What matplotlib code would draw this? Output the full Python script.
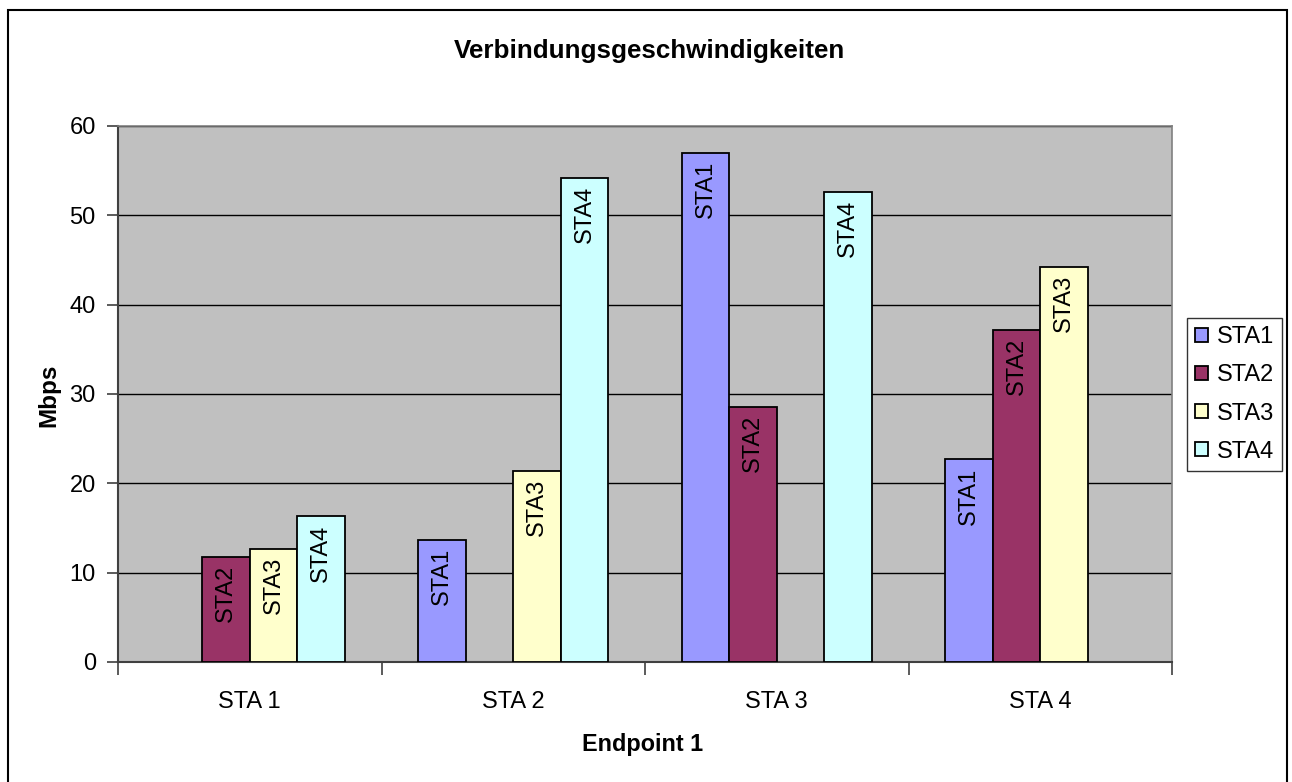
import matplotlib
matplotlib.use("Agg")
import matplotlib.pyplot as plt
from matplotlib.patches import Rectangle
import numpy as np

plt.rcParams['font.family'] = ['Liberation Sans', 'DejaVu Sans']

# data
endpoints = ["STA 1", "STA 2", "STA 3", "STA 4"]
series_names = ["STA1", "STA2", "STA3", "STA4"]
sta1 = [np.nan, 13.7, 57.0, 22.7]
sta2 = [11.8, np.nan, 28.55, 37.2]
sta3 = [12.7, 21.4, np.nan, 44.2]
sta4 = [16.3, 54.2, 52.6, np.nan]
colors = ["#9999FF", "#993366", "#FFFFCC", "#CCFFFF"]

fig = plt.figure(figsize=(12.92, 7.82), dpi=100)
ax = fig.add_axes([118 / 1292, 1 - 662 / 782, (1172 - 118) / 1292, (662 - 126) / 782])

# chart area border (open at the bottom like the screenshot)
fig.patches.append(Rectangle((8 / 1292, -0.05), (1287 - 8) / 1292, 1.05 - 10 / 782,
                             transform=fig.transFigure, fill=False,
                             edgecolor="black", linewidth=1.5))

ax.set_facecolor("#C0C0C0")
x = np.arange(len(endpoints))
width = 0.18
all_series = [sta1, sta2, sta3, sta4]
for i, (name, vals) in enumerate(zip(series_names, all_series)):
    pos = x + (i - 1.5) * width
    ax.bar(pos, vals, width, color=colors[i], edgecolor="black",
           linewidth=1.3, label=name, zorder=3)
    for p, v in zip(pos, vals):
        if np.isnan(v):
            continue
        ax.text(p, v - 0.9, name, rotation=90, ha="center", va="top",
                fontsize=17, zorder=4)

ax.set_xlim(-0.5, 3.5)
ax.set_ylim(0, 60)
ax.set_yticks(range(0, 61, 10))
ax.yaxis.grid(True, color="black", linewidth=1.0, zorder=1)
ax.set_axisbelow(True)

ax.set_xticks(x)
ax.set_xticklabels(endpoints)
ax.set_xticks(np.arange(-0.5, 4.0, 1.0), minor=True)
ax.tick_params(axis="x", which="major", length=0, pad=21, labelsize=17)
ax.tick_params(axis="x", which="minor", length=9, width=1.2, direction="out", color="#404040")
ax.tick_params(axis="y", length=8, width=1.2, direction="out", color="#404040", labelsize=17, pad=8)

for side in ["top", "right"]:
    ax.spines[side].set_color("#808080")
    ax.spines[side].set_linewidth(1.2)
for side in ["left", "bottom"]:
    ax.spines[side].set_color("#404040")
    ax.spines[side].set_linewidth(1.5)

fig.text(649 / 1292, 1 - 51 / 782, "Verbindungsgeschwindigkeiten", ha="center", va="center",
         fontsize=18.7, fontweight="bold")
fig.text(49 / 1292, 1 - 395 / 782, "Mbps", rotation=90, ha="center", va="center",
         fontsize=17.5, fontweight="bold")
fig.text(643 / 1292, 1 - 744 / 782, "Endpoint 1", ha="center", va="center",
         fontsize=16.8, fontweight="bold")

leg = ax.legend(loc="center left", bbox_to_anchor=(1187 / 1292, 1 - 394.5 / 782),
                bbox_transform=fig.transFigure, fontsize=17, frameon=True,
                fancybox=False, handlelength=0.55, handleheight=0.55,
                handletextpad=0.35, labelspacing=0.68, borderpad=0.35,
                borderaxespad=0)
leg.get_frame().set_edgecolor("black")
leg.get_frame().set_linewidth(1.0)

fig.savefig("out.png", dpi=100, facecolor="white")
